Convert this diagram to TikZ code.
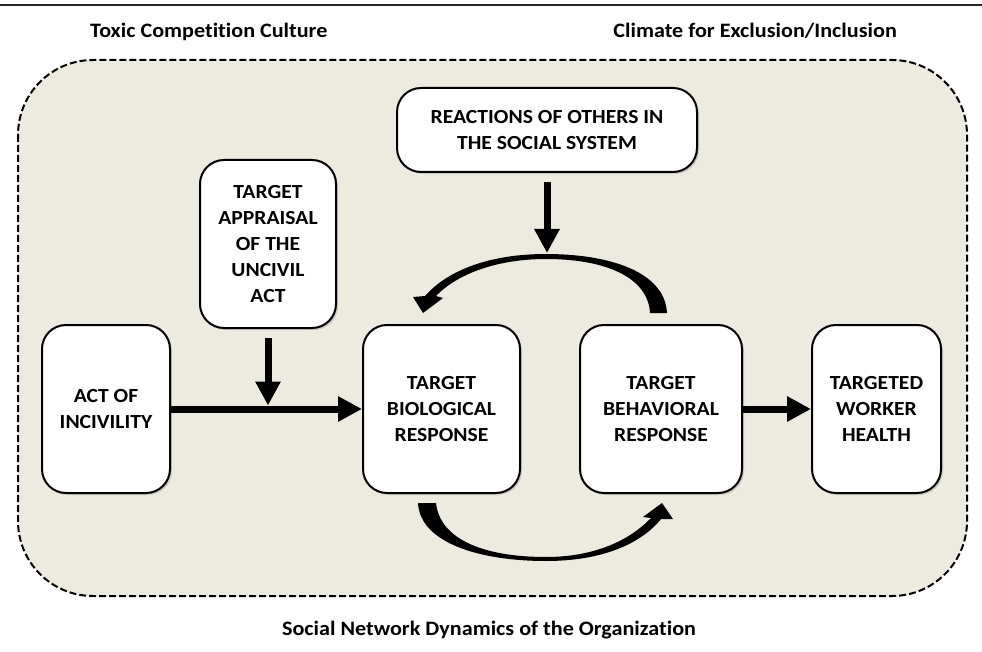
\documentclass[tikz,border=0pt]{standalone}
\usepackage{fontspec}
\setmainfont{Carlito}[FakeStretch=1.08, Ligatures=NoCommon]
\usetikzlibrary{arrows.meta,shadows}
\definecolor{bgbeige}{RGB}{237,235,224}
\tikzset{
  stage/.style={draw=black, line width=2pt, fill=white, rounded corners=24pt,
    align=center, inner sep=0pt, font=\bfseries\fontsize{20}{26}\selectfont,
    drop shadow={opacity=0.3, shadow xshift=2pt, shadow yshift=-2pt}},
  flow/.style={line width=7pt, -{Triangle[length=24pt,width=24pt]}},
  curvedband/.style={fill=black},
  caption/.style={inner sep=0pt, font=\bfseries\fontsize{20.5}{24}\selectfont},
  frame/.style={draw=black, line width=2pt, dash pattern=on 7pt off 3pt,
    fill=bgbeige, rounded corners=75pt}
}
\begin{document}
\begin{tikzpicture}[x=1pt,y=-1pt]
\useasboundingbox (0,0) rectangle (982,652);

% rule across the top
\draw[line width=2pt, black!85] (0,5) -- (982,5);

% organisational setting
\draw[frame] (18,60) rectangle (967,596);

% setting labels
\node[caption, anchor=base west] (toxic) at (90,38) {Toxic Competition Culture};
\node[caption, anchor=base east] (climate) at (897,38) {Climate for Exclusion/Inclusion};
\node[caption, anchor=base] (social) at (489,635) {Social Network Dynamics of the Organization};

% stages
\node[stage, minimum width=300pt, minimum height=84pt] (react) at (547,130)
  {REACTIONS OF OTHERS IN\\THE SOCIAL SYSTEM};
\node[stage, minimum width=136pt, minimum height=168pt] (appr) at (268,244)
  {TARGET\\APPRAISAL\\OF THE\\UNCIVIL\\ACT};
\node[stage, minimum width=128pt, minimum height=168pt] (act) at (106,409)
  {ACT OF\\INCIVILITY};
\node[stage, minimum width=157pt, minimum height=168pt] (bio) at (441.5,409)
  {TARGET\\BIOLOGICAL\\RESPONSE};
\node[stage, minimum width=162pt, minimum height=168pt] (beh) at (661,409)
  {TARGET\\BEHAVIORAL\\RESPONSE};
\node[stage, minimum width=129pt, minimum height=168pt] (health) at (876.5,409)
  {TARGETED\\WORKER\\HEALTH};

% straight links
\draw[flow] (act.east) -- (bio.west);
\coordinate (meet) at ([yshift=3.5pt]appr.south |- act.east);
\draw[flow] ([yshift=-9pt]appr.south) -- (meet);
\draw[flow] (beh.east) -- (health.west);

% feedback loop between the two responses
\coordinate (peak) at (547,253);
\draw[flow] ([yshift=-9pt]react.south) -- (peak);

% upper bend: behavioural back to biological
\fill[curvedband] (667,313) .. controls (665,272) and (610,254) .. (546,254)
  .. controls (490,254) and (448,270) .. (425,296)
  -- (413,297) -- (423,313) -- (443,298) -- (436,296)
  .. controls (457,274) and (497,259) .. (546,259)
  .. controls (605,259) and (648,277) .. (650,313) -- cycle;

% lower bend: biological on to behavioural
\fill[curvedband] (418,503) .. controls (420,543) and (480,561) .. (546,561)
  .. controls (600,561) and (640,545) .. (661,519)
  -- (673,519) -- (662,503) -- (643,517) -- (651,518)
  .. controls (630,540) and (595,557) .. (546,557)
  .. controls (485,557) and (440,540) .. (436,503) -- cycle;
\end{tikzpicture}
\end{document}
